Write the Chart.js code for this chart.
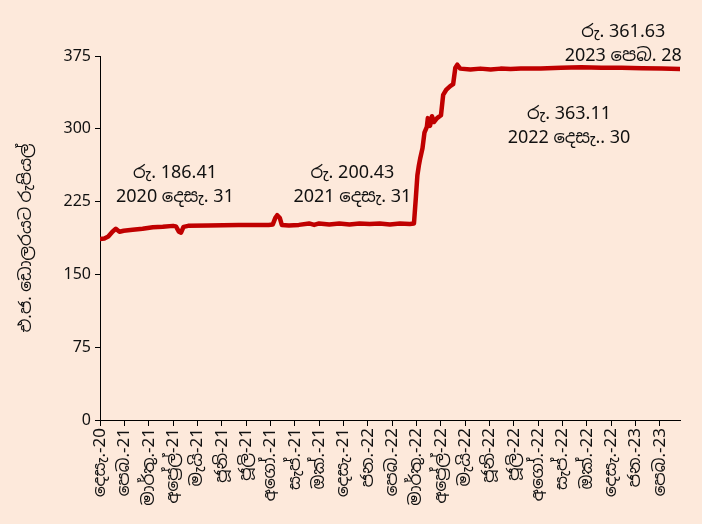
<!DOCTYPE html>
<html>
<head>
<meta charset="utf-8">
<script src="https://cdn.jsdelivr.net/npm/chart.js@4.4.1/dist/chart.umd.min.js"></script>
<style>
  html, body { margin: 0; padding: 0; background: #fde9db; }
  #wrap { width: 702px; height: 524px; }
</style>
</head>
<body>
<div id="wrap"><canvas id="chart" width="702" height="524"></canvas></div>
<script>
// x axis tick labels (one per tick, roughly monthly)
const tickLabels = [
  "දෙසැ.-20", "පෙබ.-21", "මාර්තු.-21", "අප්‍රේල්-21", "මැයි-21", "ජූනි-21",
  "ජූලි-21", "අගෝ.-21", "සැප්.-21", "ඔක්.-21", "දෙසැ.-21", "ජන.-22",
  "පෙබ.-22", "මාර්තු.-22", "අප්‍රේල්-22", "මැයි-22", "ජූනි-22", "ජූලි-22",
  "අගෝ.-22", "සැප්.-22", "ඔක්.-22", "දෙසැ.-22", "ජන.-23", "පෙබ.-23"
];

// position along the axis, in tick units (0 = 2020 Dec 31)
const ratePos = [
  0, 0.18, 0.34, 0.51, 0.65, 0.80, 0.97, 1.34, 1.75, 2.17, 2.58, 3.0,
  3.12, 3.24, 3.33, 3.43, 3.62, 4.45, 5.69, 6.93, 7.10, 7.20, 7.28, 7.39,
  7.47, 7.76, 8.17, 8.59, 8.80, 9.0, 9.42, 9.83, 10.25, 10.66, 11.08, 11.49,
  11.91, 12.32, 12.73, 12.9, 12.98, 13.04, 13.10, 13.16, 13.25, 13.33, 13.43, 13.47,
  13.56, 13.64, 13.72, 13.85, 14.01, 14.10, 14.22, 14.39, 14.51, 14.60, 14.68, 14.80,
  15.22, 15.63, 16.05, 16.46, 16.87, 17.29, 18.11, 18.94, 19.77, 20.60, 21.43, 22.26,
  23.09, 23.83
];
// LKR per USD
const rateLKR = [
  186.4, 187, 189, 194, 197, 194, 195, 196, 197, 198.5, 199, 200,
  199.5, 194, 193, 199, 200, 200.5, 201, 201, 201.5, 208, 211, 208,
  201, 200.5, 201, 202.5, 201, 202.5, 201.5, 202.5, 201.5, 202.5, 202, 202.5,
  201.5, 202.5, 202, 202.5, 230, 252, 262, 270, 280, 296, 302, 311,
  303, 313, 307, 311, 314, 335, 340, 344, 346, 363, 366, 362,
  361, 362, 361, 362, 361.5, 362, 362, 363, 363.5, 363, 363, 362.5,
  362, 361.6
];

// callouts: [line1, line2, x (tick units), y of line1, y of line2]
const notes = [
  ["රු. 186.41", "2020 දෙසැ. 31", 3.08, 254.5, 229.7],
  ["රු. 200.43", "2021 දෙසැ. 31", 10.37, 254.5, 229.7],
  ["රු. 361.63", "2023 පෙබ. 28", 21.5, 399.7, 375],
  ["රු. 363.11", "2022 දෙසැ.. 30", 19.27, 315.2, 290.5]
];

const fontFam = "'Noto Sans', 'Noto Sans Sinhala', sans-serif";
const txt = "#111";

const notePlugin = {
  id: "notes",
  afterDraw(chart) {
    const { ctx, scales } = chart;
    ctx.save();
    ctx.font = "18px " + fontFam;
    ctx.fillStyle = txt;
    ctx.textAlign = "center";
    ctx.textBaseline = "middle";
    notes.forEach(n => {
      const x = scales.x.getPixelForValue(n[2]);
      ctx.fillText(n[0], x, scales.y.getPixelForValue(n[3]));
      ctx.fillText(n[1], x, scales.y.getPixelForValue(n[4]));
    });
    ctx.restore();
  }
};

const bg = {
  id: "bg",
  beforeDraw(chart) {
    const c = chart.ctx;
    c.save();
    c.fillStyle = "#fde9db";
    c.fillRect(0, 0, chart.width, chart.height);
    c.restore();
  }
};

new Chart(document.getElementById("chart"), {
  type: "line",
  data: {
    datasets: [{
      data: ratePos.map((p, i) => ({ x: p, y: rateLKR[i] })),
      borderColor: "#c00000",
      borderWidth: 4.5,
      pointRadius: 0,
      tension: 0,
      borderJoinStyle: "round",
      borderCapStyle: "round"
    }]
  },
  options: {
    responsive: false,
    animation: false,
    layout: { padding: { top: 56, right: 22, left: 0, bottom: 0 } },
    plugins: { legend: { display: false }, tooltip: { enabled: false } },
    scales: {
      x: {
        type: "linear",
        min: 0,
        max: 23.83,
        afterBuildTicks: s => { s.ticks = tickLabels.map((_, i) => ({ value: i })); },
        afterFit: s => { s.height = 104; },
        border: { display: true, color: "#000", width: 1 },
        grid: { display: true, drawOnChartArea: false, drawTicks: true, tickLength: 6, color: "#000" },
        ticks: {
          autoSkip: false,
          maxRotation: 90,
          minRotation: 90,
          padding: 2,
          color: txt,
          font: { family: fontFam, size: 17 },
          callback: v => tickLabels[v]
        }
      },
      y: {
        min: 0,
        max: 375,
        afterFit: s => { s.width = 100; },
        border: { display: true, color: "#000", width: 1 },
        grid: { display: true, drawOnChartArea: false, drawTicks: true, tickLength: 5, color: "#000" },
        ticks: { stepSize: 75, padding: 4, color: txt, font: { family: fontFam, size: 16 } },
        title: {
          display: true,
          text: "එ.ජ. ඩොලරයට රුපියල්",
          color: txt,
          font: { family: fontFam, size: 17 },
          padding: { top: 16, bottom: 0 }
        }
      }
    }
  },
  plugins: [bg, notePlugin]
});
</script>
</body>
</html>
